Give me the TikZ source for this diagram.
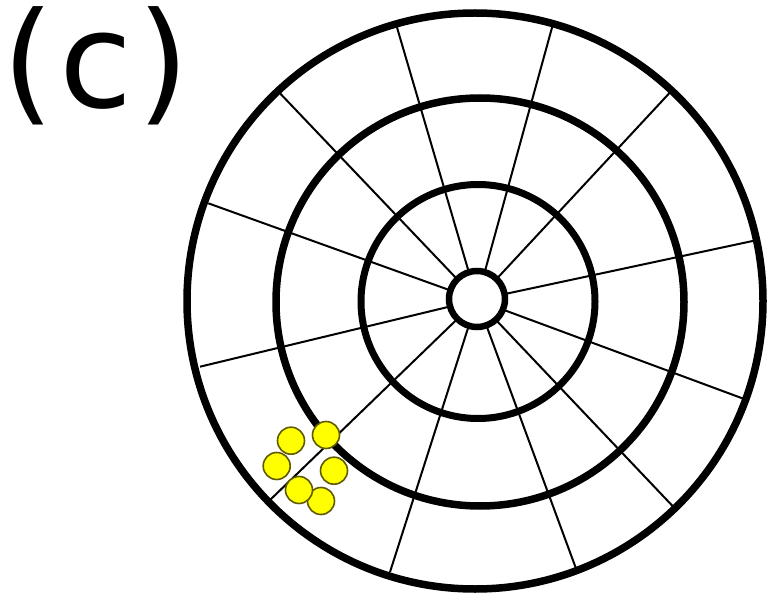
\documentclass[tikz,border=0pt]{standalone}
\usepackage{fontspec}
\newfontfamily\labelfont{DejaVu Sans}
\definecolor{dotfill}{RGB}{255,255,0}
\definecolor{dotline}{RGB}{95,90,0}
\begin{document}
\begin{tikzpicture}[x=1pt,y=-1pt,
  ring/.style={draw=black,line width=7.5pt},
  spoke/.style={draw=black,line width=2pt},
  dot/.style={circle,draw=dotline,fill=dotfill,line width=1.6pt,minimum size=27pt,inner sep=0pt}]
\useasboundingbox (0,0) rectangle (769,599);
% label
\node[anchor=base,inner sep=0pt,font=\labelfont\fontsize{133}{133}\selectfont] (lab) at (96,108) {(\kern5pt c\kern5pt)};
% spokes
\coordinate (C) at (477,300);
\coordinate (p1) at (396,24);
\coordinate (p2) at (553,24);
\coordinate (p3) at (670.7,91.7);
\coordinate (p4) at (757.3,240);
\coordinate (p5) at (747.4,400.2);
\coordinate (p6) at (675.8,509.4);
\coordinate (p7) at (576.8,570.7);
\coordinate (p8) at (390,572);
\coordinate (p9) at (270,500);
\coordinate (p10) at (200,366.7);
\coordinate (p11) at (208.3,203.3);
\coordinate (p12) at (280,93.3);
\foreach \i in {1,...,12} {\draw[spoke] (p\i) -- (C);}
% rings
\draw[ring] (475,301) circle[radius=288];
\draw[ring] (480,302) circle[radius=204];
\draw[ring,line width=7pt] (478,301.5) circle[radius=117];
\draw[ring,line width=6.5pt,fill=white] (477,299) circle[radius=28];
% yellow dots
\node[dot] (d6) at (321,501) {};
\node[dot] (d5) at (299,490) {};
\node[dot] (d3) at (276.7,466) {};
\node[dot] (d1) at (291,440.7) {};
\node[dot] (d4) at (334,470.7) {};
\node[dot] (d2) at (326,435) {};
\end{tikzpicture}
\end{document}
